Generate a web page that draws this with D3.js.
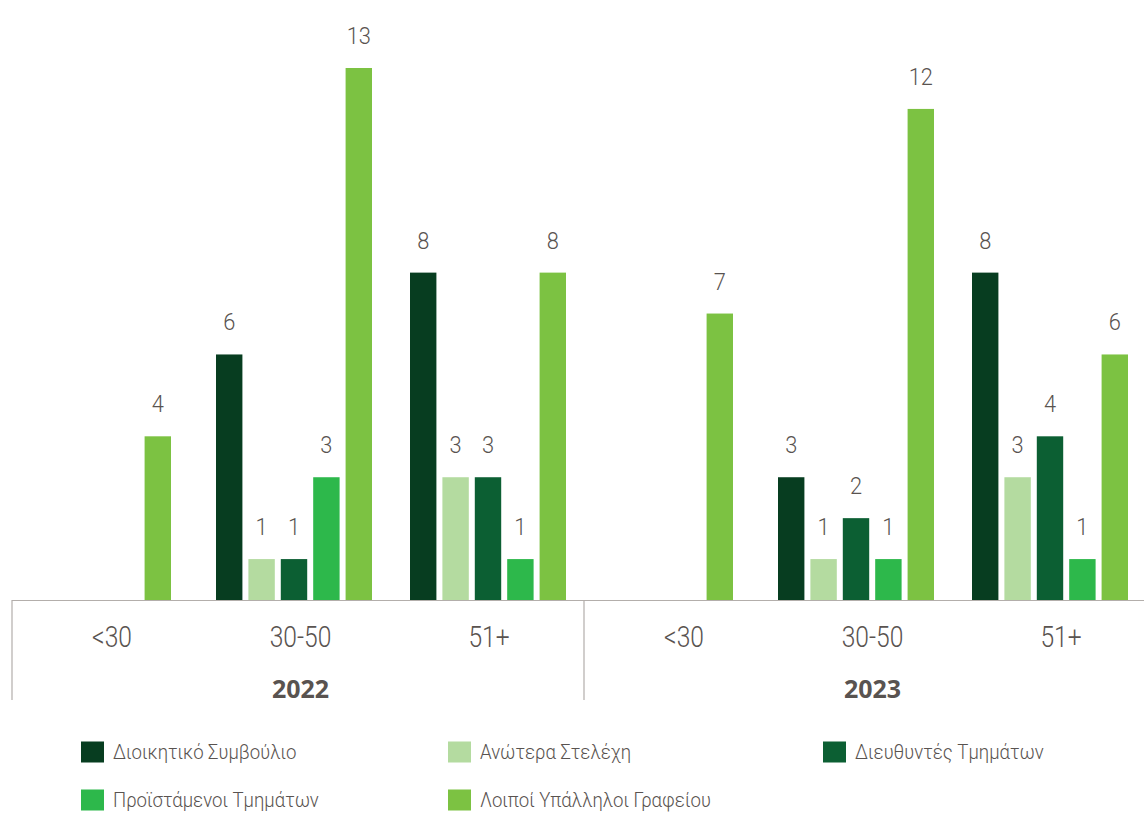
<!DOCTYPE html>
<html>
<head>
<meta charset="utf-8">
<script src="https://cdn.jsdelivr.net/npm/d3@7/dist/d3.min.js"></script>
<style>
  html, body { margin: 0; padding: 0; background: #ffffff; }
  svg { display: block; }
  text { font-family: Roboto, "Noto Sans", sans-serif; fill: #595350; }
</style>
</head>
<body>
<svg id="chart" width="1144" height="816"></svg>
<script>
// ---- data ----
const years = ["2022", "2023"];
const ageGroups = ["<30", "30-50", "51+"];
const seriesNames = ["Διοικητικό Συμβούλιο", "Ανώτερα Στελέχη", "Διευθυντές Τμημάτων", "Προϊστάμενοι Τμημάτων", "Λοιποί Υπάλληλοι Γραφείου"];
const seriesColors = ["#073d20", "#b4dba0", "#0c5f33", "#2db84b", "#7cc242"];
// values per series: [2022 <30, 2022 30-50, 2022 51+, 2023 <30, 2023 30-50, 2023 51+]
const boardValues      = [0, 6, 8, 0, 3, 8];
const seniorValues     = [0, 1, 3, 0, 1, 3];
const directorValues   = [0, 1, 3, 0, 2, 4];
const supervisorValues = [0, 3, 1, 0, 1, 1];
const staffValues      = [4, 13, 8, 7, 12, 6];
const seriesValues = [boardValues, seniorValues, directorValues, supervisorValues, staffValues];

// ---- layout ----
const svg = d3.select("#chart");
const baseY = 600, topY = 68;
const panelX = d3.scalePoint().domain(years).range([12, 584]);      // frame / labels
const barPanelX = d3.scalePoint().domain(years).range([17, 579]);   // bar clusters
const groupX = d3.scaleOrdinal().domain(ageGroups).range([76, 277, 471]);
const labelX = d3.scalePoint().domain(ageGroups).range([100, 477]);
const barX = d3.scaleBand().domain(seriesNames).range([-78, 78]).paddingInner(0.185);
const y = d3.scaleLinear().domain([0, 13]).range([baseY, topY]);

const rows = [];
years.forEach((yr, yi) => {
  ageGroups.forEach((g, gi) => {
    seriesNames.forEach((s, si) => {
      const v = seriesValues[si][yi * ageGroups.length + gi];
      if (v > 0) rows.push({ year: yr, group: g, series: s, color: seriesColors[si], value: v });
    });
  });
});

const cx = d => barPanelX(d.year) + groupX(d.group) + barX(d.series);

svg.append("g").selectAll("rect").data(rows).join("rect")
  .attr("x", cx)
  .attr("y", d => y(d.value))
  .attr("width", barX.bandwidth())
  .attr("height", d => baseY - y(d.value))
  .attr("fill", d => d.color);

svg.append("g").selectAll("text").data(rows).join("text")
  .attr("transform", d => `translate(${cx(d) + barX.bandwidth() / 2},${y(d.value) - 24}) scale(0.95,1)`)
  .attr("text-anchor", "middle")
  .style("font-size", "23px")
  .style("font-weight", 300)
  .text(d => d.value);

// axis frame
const frame = svg.append("g").attr("stroke", "#b3aeab").attr("stroke-width", 1.2);
frame.append("line").attr("x1", 12).attr("x2", 1144).attr("y1", baseY + 0.5).attr("y2", baseY + 0.5);
years.forEach(yr => {
  frame.append("line").attr("x1", panelX(yr)).attr("x2", panelX(yr)).attr("y1", baseY).attr("y2", 700);
});

// category labels
years.forEach(yr => {
  const g = svg.append("g");
  ageGroups.forEach(a => {
    g.append("text")
      .attr("transform", `translate(${panelX(yr) + labelX(a)},647) scale(0.82,1)`)
      .attr("text-anchor", "middle")
      .style("font-size", "30px")
      .style("font-weight", 300)
      .text(a);
  });
  svg.append("text")
    .attr("x", panelX(yr) + labelX(ageGroups[1]))
    .attr("y", 698)
    .attr("text-anchor", "middle")
    .style("font-family", "'Open Sans', Lato, sans-serif")
    .style("font-size", "25px")
    .style("font-weight", 700)
    .text(yr);
});

// legend
const legendCols = [81, 448, 823];
const legendRows = [752, 800];
const legendPos = [[0, 0], [1, 0], [2, 0], [0, 1], [1, 1]];
const legend = svg.append("g");
seriesNames.forEach((s, i) => {
  const [c, r] = legendPos[i];
  const lx = legendCols[c], ly = legendRows[r];
  legend.append("rect").attr("x", lx).attr("y", ly - 10.5).attr("width", 23).attr("height", 21).attr("fill", seriesColors[i]);
  legend.append("text")
    .attr("transform", `translate(${lx + 32},${ly + 7}) scale(0.93,1)`)
    .style("font-size", "20px")
    .style("font-weight", 300)
    .text(s);
});
</script>
</body>
</html>
